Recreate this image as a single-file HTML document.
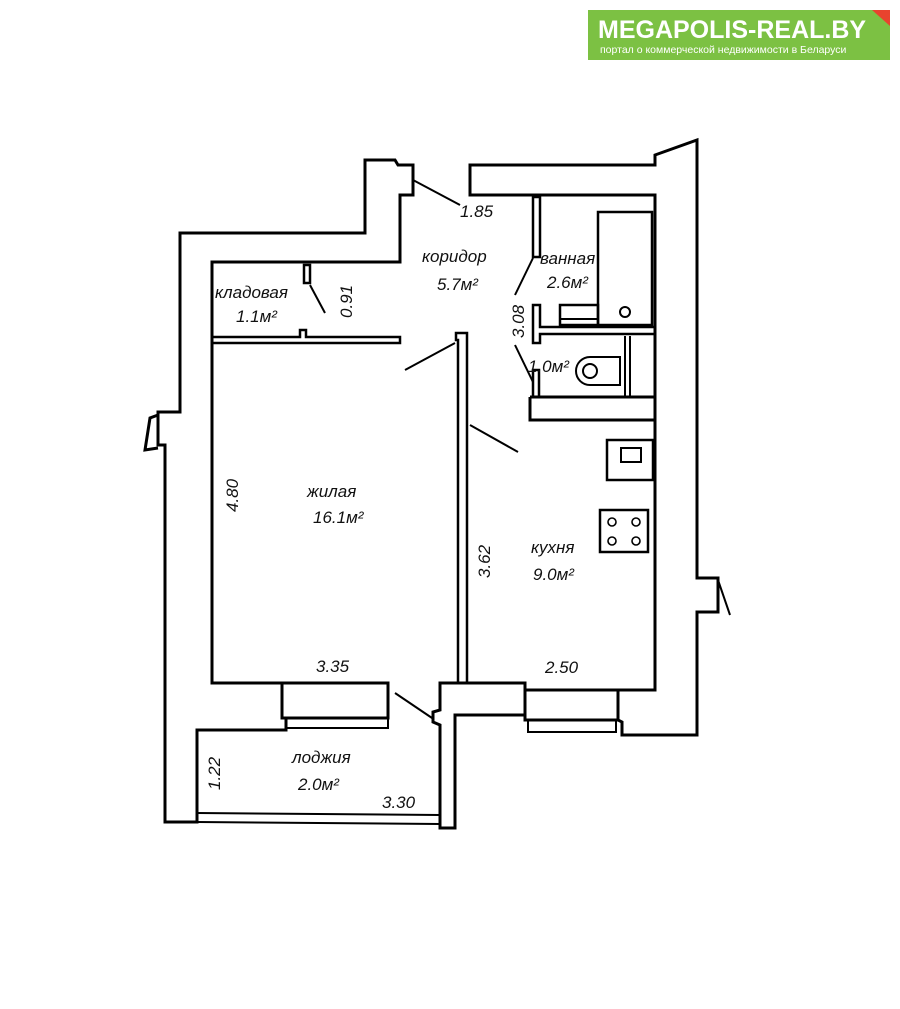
<!DOCTYPE html>
<html><head><meta charset="utf-8"><style>
html,body{margin:0;padding:0;background:#fff;width:900px;height:1009px;overflow:hidden}
svg{display:block}
text{font-family:"Liberation Sans",sans-serif;font-style:italic;fill:#111}
</style></head><body>
<svg width="900" height="1009" viewBox="0 0 900 1009" xmlns="http://www.w3.org/2000/svg">
<rect x="588" y="10" width="302" height="50" fill="#7cc143"/>
<polygon points="872,10 890,10 890,26" fill="#e8432e"/>
<text x="598" y="38" style="font-style:normal;font-weight:bold;font-size:25px;fill:#fff">MEGAPOLIS-REAL.BY</text>
<text x="600" y="53" style="font-style:normal;font-size:10.5px;fill:#fff">портал о коммерческой недвижимости в Беларуси</text>

<g fill="none" stroke="#000" stroke-width="3" stroke-linejoin="miter">
<!-- left wall -->
<polygon points="180,233 365,233 365,160 395,160 398,165 413,165 413,195 400,195 400,262 212,262 212,683 282,683 282,718 286,718 286,730 197,730 197,822 165,822 165,445 158,445 158,412 180,412"/>
<polyline points="158,415 150,418 145,450 158,448"/>
<!-- living window -->
<rect x="282" y="683" width="106" height="35"/>
<polyline points="286,718 286,728 388,728 388,718" stroke-width="2"/>
<!-- middle pillar -->
<polygon points="440,683 525,683 525,715 455,715 455,828 440,828 440,725 433,722 433,712 440,710"/>
<!-- loggia glass -->
<line x1="197" y1="813" x2="440" y2="815" stroke-width="2"/>
<line x1="197" y1="822" x2="440" y2="824" stroke-width="2"/>
<!-- kitchen window -->
<rect x="525" y="690" width="93" height="30"/>
<polyline points="528,720 528,732 616,732 616,720" stroke-width="2"/>
<!-- right wall -->
<polygon points="470,165 655,165 655,155 697,140 697,578 718,578 718,612 697,612 697,735 622,735 622,722 618,720 618,690 655,690 655,195 470,195"/>
<line x1="718" y1="580" x2="730" y2="615" stroke-width="2"/>
<!-- kladovaya wall -->
<polygon points="212,337 300,337 300,330 306,330 306,337 400,337 400,343 212,343" stroke-width="2.5"/>
<rect x="304" y="265" width="6" height="18" stroke-width="2.5"/>
<!-- living/kitchen partition -->
<polygon points="456,333 467,333 467,683 458,683 458,340 456,340" stroke-width="2.5"/>
<!-- bathroom walls -->
<rect x="533" y="197" width="7" height="60" stroke-width="2.5"/>
<polygon points="533,305 540,305 540,327 655,327 655,334 540,334 540,343 533,343" stroke-width="2.5"/>
<rect x="598" y="212" width="54" height="113" stroke-width="2.5"/>
<rect x="560" y="305" width="38" height="20" stroke-width="2.5"/>
<line x1="560" y1="319" x2="598" y2="319" stroke-width="2"/>
<circle cx="625" cy="312" r="5" stroke-width="2"/>
<!-- WC -->
<rect x="533" y="370" width="6" height="27" stroke-width="2.5"/>
<line x1="530" y1="397" x2="655" y2="397"/>
<polyline points="530,397 530,420 655,420" />
<line x1="625" y1="336" x2="625" y2="397" stroke-width="2"/>
<line x1="630" y1="336" x2="630" y2="397" stroke-width="2"/>
<path d="M590,357 L620,357 L620,385 L590,385 A14,14 0 0 1 590,357 Z" stroke-width="2"/>
<circle cx="590" cy="371" r="7" stroke-width="2"/>
<!-- kitchen fixtures -->
<rect x="607" y="440" width="46" height="40" stroke-width="2.5"/>
<rect x="621" y="448" width="20" height="14" stroke-width="2"/>
<rect x="600" y="510" width="48" height="42" stroke-width="2.5"/>
<g stroke-width="1.6"><circle cx="612" cy="522" r="4"/><circle cx="636" cy="522" r="4"/><circle cx="612" cy="541" r="4"/><circle cx="636" cy="541" r="4"/></g>
<!-- door swings / leaders -->
<g stroke-width="2">
<line x1="413" y1="180" x2="460" y2="205"/>
<line x1="310" y1="285" x2="325" y2="313"/>
<line x1="455" y1="343" x2="405" y2="370"/>
<line x1="470" y1="425" x2="518" y2="452"/>
<line x1="533" y1="258" x2="515" y2="295"/>
<line x1="515" y1="345" x2="533" y2="382"/>
<line x1="395" y1="693" x2="432" y2="718"/>
</g>
</g>

<g font-size="17">
<text x="422" y="262">коридор</text>
<text x="437" y="290">5.7м²</text>
<text x="540" y="264">ванная</text>
<text x="547" y="288">2.6м²</text>
<text x="215" y="298">кладовая</text>
<text x="236" y="322">1.1м²</text>
<text x="460" y="217">1.85</text>
<text x="528" y="372">1.0м²</text>
<text x="307" y="497">жилая</text>
<text x="313" y="523">16.1м²</text>
<text x="531" y="553">кухня</text>
<text x="533" y="580">9.0м²</text>
<text x="316" y="672">3.35</text>
<text x="545" y="673">2.50</text>
<text x="292" y="763">лоджия</text>
<text x="298" y="790">2.0м²</text>
<text x="382" y="808">3.30</text>
<text transform="translate(352,318) rotate(-90)">0.91</text>
<text transform="translate(524,338) rotate(-90)">3.08</text>
<text transform="translate(238,512) rotate(-90)">4.80</text>
<text transform="translate(490,578) rotate(-90)">3.62</text>
<text transform="translate(220,790) rotate(-90)">1.22</text>
</g>
</svg>
</body></html>
